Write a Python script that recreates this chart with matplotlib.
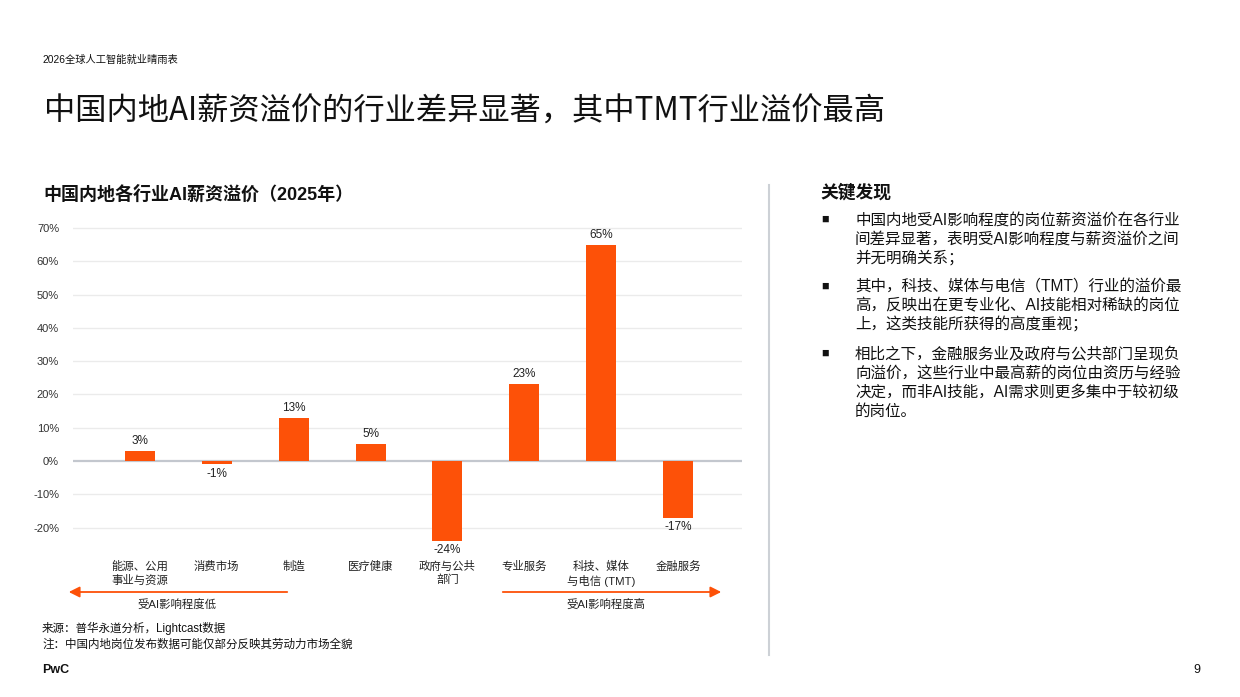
import matplotlib
matplotlib.use("Agg")
import matplotlib.pyplot as plt
from matplotlib.transforms import blended_transform_factory

plt.rcParams['font.family'] = ['Liberation Sans', 'Noto Sans CJK SC', 'DejaVu Sans']

# 数据
categories = ['能源、公用\n事业与资源', '消费市场', '制造', '医疗健康', '政府与公共\n部门',
              '专业服务', '科技、媒体\n与电信 (TMT)', '金融服务']
premium = [3, -1, 13, 5, -24, 23, 65, -17]
yticks = [-20, -10, 0, 10, 20, 30, 40, 50, 60, 70]

bullets = [
    ['中国内地受AI影响程度的岗位薪资溢价在各行业', '间差异显著，表明受AI影响程度与薪资溢价之间', '并无明确关系；'],
    ['其中，科技、媒体与电信（TMT）行业的溢价最', '高，反映出在更专业化、AI技能相对稀缺的岗位', '上，这类技能所获得的高度重视；'],
    ['相比之下，金融服务业及政府与公共部门呈现负', '向溢价，这些行业中最高薪的岗位由资历与经验', '决定，而非AI技能，AI需求则更多集中于较初级', '的岗位。'],
]

ORANGE = '#FD5108'
W, H = 1240, 697

def fx(x):
    return x / W

def fy(y):
    return 1 - y / H

fig = plt.figure(figsize=(12.4, 6.97), dpi=100)

# 坐标区
y_top, y_bot = 221.3, 551.0
ax = fig.add_axes([fx(73), fy(y_bot), (742 - 73) / W, (y_bot - y_top) / H])
x = list(range(len(categories)))
ax.bar(x, premium, width=0.39, color=ORANGE, zorder=3)
ax.set_xlim(-0.87, 7.83)
ax.set_ylim(-27, 72)
ax.set_yticks(yticks)
ax.set_yticklabels([f'{t}%' for t in yticks], fontsize=8, color='#333333')
ax.tick_params(axis='y', length=0, pad=10)
ax.set_xticks([])
for s in ax.spines.values():
    s.set_visible(False)
for t in yticks:
    if t == 0:
        ax.axhline(0, color='#C3C7CE', lw=1.6, zorder=2)
    else:
        ax.axhline(t, color='#EBEBEB', lw=1.0, zorder=1)

for xi, v in zip(x, premium):
    if v >= 0:
        ax.text(xi, v + 1.2, f'{v}%', ha='center', va='bottom', fontsize=8.5, color='#222222')
    else:
        ax.text(xi, v - 1.0, f'{v}%', ha='center', va='top', fontsize=8.5, color='#222222')

trans = blended_transform_factory(ax.transData, fig.transFigure)
for xi, c in zip(x, categories):
    ax.text(xi, fy(561), c, transform=trans, ha='center', va='top', fontsize=8.2,
            color='#222222', linespacing=1.3)

# 箭头
arrow_style = '-|>,head_length=3.2,head_width=1.6'
fig.add_artist(matplotlib.patches.FancyArrowPatch((fx(290), fy(592)), (fx(66), fy(592)),
               transform=fig.transFigure, arrowstyle=arrow_style,
               color=ORANGE, lw=1.3, mutation_scale=2))
fig.add_artist(matplotlib.patches.FancyArrowPatch((fx(500), fy(592)), (fx(724), fy(592)),
               transform=fig.transFigure, arrowstyle=arrow_style,
               color=ORANGE, lw=1.3, mutation_scale=2))
fig.text(fx(177), fy(604), '受AI影响程度低', ha='center', va='center', fontsize=8.2, color='#222222')
fig.text(fx(606), fy(604), '受AI影响程度高', ha='center', va='center', fontsize=8.2, color='#222222')

# 标题
fig.text(fx(42), fy(60), '2026全球人工智能就业晴雨表', ha='left', va='center', fontsize=7.4, color='#111111')
fig.text(fx(44), fy(112), '中国内地AI薪资溢价的行业差异显著，其中TMT行业溢价最高', ha='left', va='center',
         fontsize=22.5, color='#111111', family=['Noto Sans CJK SC'])
fig.text(fx(43), fy(195), '中国内地各行业AI薪资溢价（2025年）', ha='left', va='center',
         fontsize=13, fontweight='bold', color='#111111')

# 分隔线
fig.add_artist(plt.Line2D([fx(769), fx(769)], [fy(185), fy(655)], color='#CDD1D6', lw=1.5))

# 关键发现
fig.text(fx(820), fy(193), '关键发现', ha='left', va='center', fontsize=12.8, fontweight='bold', color='#111111')
y = 220
for lines in bullets:
    fig.text(fx(825), fy(y), '■', ha='center', va='center', fontsize=9, color='#111111')
    for ln in lines:
        fig.text(fx(855), fy(y), ln, ha='left', va='center', fontsize=11.2, color='#111111')
        y += 19
    y += 10

# 脚注
fig.text(fx(42), fy(628), '来源：普华永道分析，Lightcast数据', ha='left', va='center', fontsize=8.3, color='#111111')
fig.text(fx(42), fy(645), '注：中国内地岗位发布数据可能仅部分反映其劳动力市场全貌', ha='left', va='center', fontsize=8.3, color='#111111')
fig.text(fx(42), fy(670), 'PwC', ha='left', va='center', fontsize=9, fontweight='bold', color='#111111')
fig.text(fx(1197), fy(670), '9', ha='center', va='center', fontsize=9, color='#111111')

fig.savefig('out.png', dpi=100)
